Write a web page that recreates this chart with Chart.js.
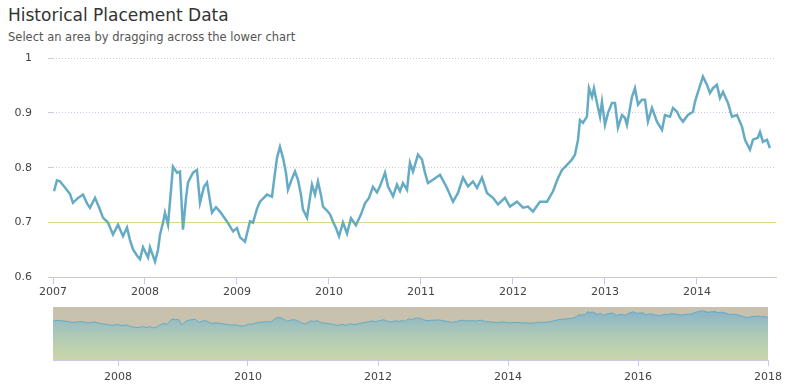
<!DOCTYPE html>
<html>
<head>
<meta charset="utf-8">
<script src="https://cdn.jsdelivr.net/npm/chart.js@4/dist/chart.umd.min.js"></script>
<style>
  body { margin: 0; background: #fff; font-family: "DejaVu Sans", sans-serif; }
  #wrap { position: relative; width: 790px; height: 392px; overflow: hidden; }
  #title { position: absolute; left: 8px; top: 5px; font-size: 17px; color: #333; white-space: nowrap; }
  #subtitle { position: absolute; left: 8px; top: 30px; font-size: 11.5px; color: #555; white-space: nowrap; }
  canvas { position: absolute; left: 0; }
</style>
</head>
<body>
<div id="wrap">
  <div id="title">Historical Placement Data</div>
  <div id="subtitle">Select an area by dragging across the lower chart</div>
  <canvas id="mainChart" width="790" height="300" style="top:0"></canvas>
  <canvas id="navChart" width="790" height="92" style="top:300px"></canvas>
</div>
<script>
// dates (decimal years) and values
var placementDates = [
  2007.011, 2007.043, 2007.076, 2007.130, 2007.185, 2007.217, 2007.272, 2007.326, 2007.370, 2007.402,
  2007.457, 2007.500, 2007.543, 2007.598, 2007.652, 2007.707, 2007.761, 2007.804, 2007.837, 2007.870,
  2007.913, 2007.946, 2007.978, 2008.033, 2008.054, 2008.109, 2008.141, 2008.163, 2008.196, 2008.217,
  2008.250, 2008.283, 2008.304, 2008.348, 2008.380, 2008.413, 2008.446, 2008.467, 2008.522, 2008.565,
  2008.598, 2008.641, 2008.674, 2008.728, 2008.772, 2008.815, 2008.891, 2008.957, 2009.000, 2009.033,
  2009.087, 2009.141, 2009.174, 2009.217, 2009.250, 2009.326, 2009.380, 2009.413, 2009.435, 2009.467,
  2009.500, 2009.533, 2009.554, 2009.598, 2009.630, 2009.663, 2009.696, 2009.717, 2009.761, 2009.815,
  2009.848, 2009.880, 2009.913, 2009.935, 2009.978, 2010.011, 2010.043, 2010.076, 2010.109, 2010.152,
  2010.196, 2010.239, 2010.293, 2010.348, 2010.391, 2010.435, 2010.478, 2010.522, 2010.554, 2010.609,
  2010.641, 2010.696, 2010.739, 2010.772, 2010.804, 2010.848, 2010.880, 2010.913, 2010.967, 2011.011,
  2011.043, 2011.076, 2011.130, 2011.207, 2011.283, 2011.348, 2011.402, 2011.457, 2011.511, 2011.565,
  2011.609, 2011.663, 2011.717, 2011.783, 2011.837, 2011.913, 2011.967, 2012.043, 2012.109, 2012.163,
  2012.217, 2012.293, 2012.370, 2012.435, 2012.489, 2012.533, 2012.587, 2012.641, 2012.674, 2012.707,
  2012.728, 2012.761, 2012.804, 2012.826, 2012.859, 2012.880, 2012.913, 2012.946, 2012.967, 2013.000,
  2013.033, 2013.076, 2013.109, 2013.141, 2013.185, 2013.217, 2013.239, 2013.293, 2013.326, 2013.359,
  2013.402, 2013.435, 2013.467, 2013.511, 2013.565, 2013.620, 2013.652, 2013.707, 2013.739, 2013.783,
  2013.815, 2013.848, 2013.902, 2013.957, 2013.978, 2014.011, 2014.065, 2014.109, 2014.141, 2014.174,
  2014.217, 2014.250, 2014.283, 2014.337, 2014.380, 2014.435, 2014.489, 2014.522, 2014.576, 2014.609,
  2014.663, 2014.685, 2014.717, 2014.761, 2014.793
];
var placementValues = [
  0.757, 0.777, 0.775, 0.764, 0.752, 0.736, 0.745, 0.751, 0.735, 0.727,
  0.745, 0.728, 0.709, 0.700, 0.678, 0.696, 0.675, 0.691, 0.668, 0.651,
  0.640, 0.633, 0.655, 0.636, 0.655, 0.629, 0.650, 0.678, 0.700, 0.718,
  0.696, 0.760, 0.802, 0.791, 0.793, 0.687, 0.745, 0.773, 0.791, 0.796,
  0.736, 0.765, 0.773, 0.718, 0.728, 0.720, 0.702, 0.684, 0.690, 0.673,
  0.665, 0.702, 0.700, 0.725, 0.738, 0.751, 0.747, 0.790, 0.818, 0.838,
  0.818, 0.790, 0.760, 0.780, 0.793, 0.778, 0.750, 0.724, 0.709, 0.769,
  0.751, 0.775, 0.750, 0.729, 0.722, 0.715, 0.702, 0.690, 0.675, 0.700,
  0.680, 0.708, 0.695, 0.715, 0.735, 0.745, 0.765, 0.755, 0.766, 0.791,
  0.766, 0.748, 0.769, 0.757, 0.772, 0.760, 0.809, 0.793, 0.824, 0.815,
  0.791, 0.772, 0.778, 0.787, 0.763, 0.738, 0.754, 0.782, 0.766, 0.775,
  0.763, 0.782, 0.754, 0.745, 0.733, 0.745, 0.729, 0.738, 0.727, 0.729,
  0.720, 0.738, 0.738, 0.757, 0.781, 0.796, 0.805, 0.815, 0.824, 0.851,
  0.887, 0.882, 0.893, 0.945, 0.929, 0.945, 0.918, 0.893, 0.920, 0.878,
  0.900, 0.918, 0.918, 0.873, 0.896, 0.891, 0.878, 0.929, 0.945, 0.915,
  0.924, 0.924, 0.884, 0.909, 0.884, 0.869, 0.896, 0.893, 0.909, 0.902,
  0.891, 0.884, 0.896, 0.902, 0.920, 0.938, 0.966, 0.951, 0.936, 0.945,
  0.951, 0.927, 0.938, 0.918, 0.893, 0.896, 0.875, 0.851, 0.833, 0.851,
  0.855, 0.865, 0.847, 0.851, 0.836
];
var mainTicks = [2007, 2008, 2009, 2010, 2011, 2012, 2013, 2014];
var navTicks = [2008, 2010, 2012, 2014, 2016, 2018];
var yTicks = [0.6, 0.7, 0.8, 0.9, 1];
var plotLineValue = 0.7;
var navStart = 2007, navEnd = 2018;

var lineColor = "#66abc4";
var gridColor = "#c9c9ea";
var plotLineColor = "#dcd88a";
var labelFont = { family: "DejaVu Sans", size: 11 };

var mainPoints = placementDates.map(function (d, i) { return { x: d, y: placementValues[i] }; });
// the navigator shows the same series squeezed onto its own year axis
var first = placementDates[0], last = placementDates[placementDates.length - 1];
var navPoints = placementDates.map(function (d, i) {
  return { x: navStart + (d - first) / (last - first) * (navEnd - navStart), y: placementValues[i] };
});

function isPlotLine(ctx) {
  return ctx.tick && Math.abs(ctx.tick.value - plotLineValue) < 1e-6;
}

new Chart(document.getElementById("mainChart"), {
  type: 'line',
  data: {
    datasets: [{
      data: mainPoints,
      borderColor: lineColor,
      borderWidth: 2.5,
      pointRadius: 0,
      tension: 0,
      fill: false
    }]
  },
  options: {
    responsive: false,
    animation: false,
    layout: { padding: { top: 58, right: 14, left: 0, bottom: 0 } },
    plugins: { legend: { display: false }, tooltip: { enabled: false } },
    scales: {
      x: {
        type: 'linear',
        min: 2007,
        max: 2014.859,
        afterBuildTicks: function (s) { s.ticks = mainTicks.map(function (v) { return { value: v }; }); },
        afterFit: function (s) { s.height = 22; },
        grid: { drawOnChartArea: false, tickLength: 7, tickColor: gridColor },
        border: { color: gridColor },
        ticks: { padding: 1, color: "#444", font: labelFont, maxRotation: 0,
                 callback: function (v) { return String(v); } }
      },
      y: {
        min: 0.6,
        max: 1,
        afterBuildTicks: function (s) { s.ticks = yTicks.map(function (v) { return { value: v }; }); },
        afterFit: function (s) { s.width = 53; },
        grid: {
          color: function (ctx) { return isPlotLine(ctx) ? plotLineColor : gridColor; },
          tickColor: function (ctx) { return isPlotLine(ctx) ? plotLineColor : gridColor; },
          tickLength: 5
        },
        border: { display: false, dash: function (ctx) { return isPlotLine(ctx) ? [] : [1, 2]; } },
        ticks: { padding: 16, color: "#444", font: labelFont,
                 callback: function (v) { return String(Math.round(v * 10) / 10); } }
      }
    }
  }
});

var maskPlugin = {
  id: 'mask',
  beforeDatasetsDraw: function (chart) {
    var a = chart.chartArea, c = chart.ctx;
    c.save();
    c.fillStyle = "#c7c1ae";
    c.fillRect(a.left, a.top, a.right - a.left, a.bottom - a.top);
    c.restore();
  }
};

new Chart(document.getElementById("navChart"), {
  type: 'line',
  data: {
    datasets: [{
      data: navPoints,
      borderColor: lineColor,
      borderWidth: 1,
      pointRadius: 0,
      tension: 0,
      fill: 'origin',
      backgroundColor: function (ctx) {
        var a = ctx.chart.chartArea;
        if (!a) return "rgba(120,180,210,0.5)";
        var g = ctx.chart.ctx.createLinearGradient(0, a.top, 0, a.bottom);
        g.addColorStop(0, "rgba(110,172,212,0.8)");
        g.addColorStop(1, "rgba(205,235,165,0.5)");
        return g;
      }
    }]
  },
  options: {
    responsive: false,
    animation: false,
    layout: { padding: { top: 7, right: 22, left: 53, bottom: 0 } },
    plugins: { legend: { display: false }, tooltip: { enabled: false } },
    scales: {
      x: {
        type: 'linear',
        min: navStart,
        max: navEnd,
        afterBuildTicks: function (s) { s.ticks = navTicks.map(function (v) { return { value: v }; }); },
        afterFit: function (s) { s.height = 32; },
        grid: { drawOnChartArea: false, tickLength: 6, tickColor: gridColor },
        border: { color: gridColor },
        ticks: { padding: 5, color: "#444", font: labelFont, maxRotation: 0,
                 callback: function (v) { return String(v); } }
      },
      y: { display: false, min: 0, max: 1.04 }
    }
  },
  plugins: [maskPlugin]
});
</script>
</body>
</html>
